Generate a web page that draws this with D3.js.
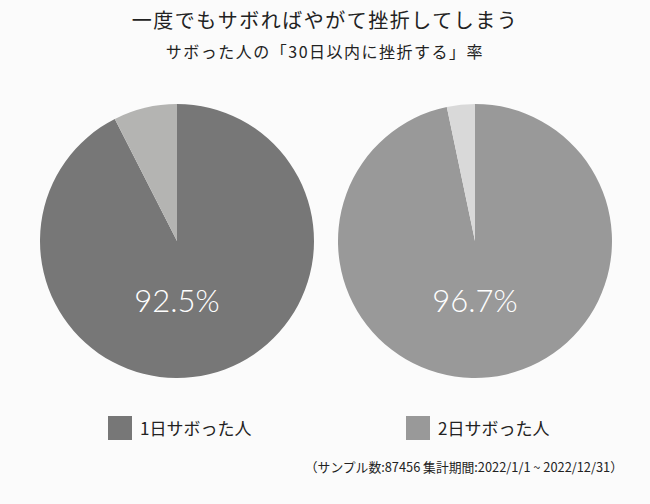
<!DOCTYPE html>
<html><head><meta charset="utf-8">
<script src="https://cdn.jsdelivr.net/npm/d3@7"></script>
<style>html,body{margin:0;padding:0;background:#fbfbfb;}</style>
</head><body>
<svg id="c" width="650" height="504"></svg>
<script>
const title = "一度でもサボればやがて挫折してしまう";
const subtitle = "サボった人の「30日以内に挫折する」率";
const categories = ["1日サボった人", "2日サボった人"];
const rates = [92.5, 96.7];
const labels = ["92.5%", "96.7%"];
const note = "（サンプル数:87456 集計期間:2022/1/1 ~ 2022/12/31）";
const mainColors = ["#777777", "#999999"];
const restColors = ["#b4b4b2", "#d9d9d9"];

const svg = d3.select("#c");
svg.append("rect").attr("width",650).attr("height",504).attr("fill","#fbfbfb");
const jp = "'Noto Sans CJK JP', sans-serif";
svg.append("text").attr("x",325).attr("y",28).attr("text-anchor","middle")
  .attr("font-family",jp).attr("font-size",20).attr("fill","#222").attr("letter-spacing",1.5).text(title);
svg.append("text").attr("x",325).attr("y",58).attr("text-anchor","middle")
  .attr("font-family",jp).attr("font-size",16).attr("fill","#222").attr("letter-spacing",1.5).text(subtitle);

const x = d3.scaleBand().domain(categories).range([28, 624]);
const r = 137, cy = 241;
const pie = d3.pie().sort(null);
const arc = d3.arc().innerRadius(0).outerRadius(r);
categories.forEach((c,i)=>{
  const cx = x(c) + x.bandwidth()/2;
  const g = svg.append("g").attr("transform",`translate(${cx},${cy})`);
  const data = pie([rates[i], 100-rates[i]]);
  g.selectAll("path").data(data).enter().append("path")
    .attr("d",arc).attr("fill",(d,j)=> j===0?mainColors[i]:restColors[i]);
  g.append("text").attr("x",0).attr("y",71).attr("text-anchor","middle")
    .attr("font-family","Lato, sans-serif").attr("font-weight",300).attr("font-size",31)
    .attr("fill","#fff").text(labels[i]);
  const lx = cx - 69;
  svg.append("rect").attr("x",lx).attr("y",416).attr("width",24).attr("height",24).attr("fill",mainColors[i]);
  svg.append("text").attr("x",lx+32).attr("y",435).attr("font-family",jp).attr("font-size",17)
    .attr("fill","#222").text(c);
});
svg.append("text").attr("x",623).attr("y",472).attr("text-anchor","end")
  .attr("font-family",jp).attr("font-size",12.8).attr("fill","#222").text(note);
</script>
</body></html>
